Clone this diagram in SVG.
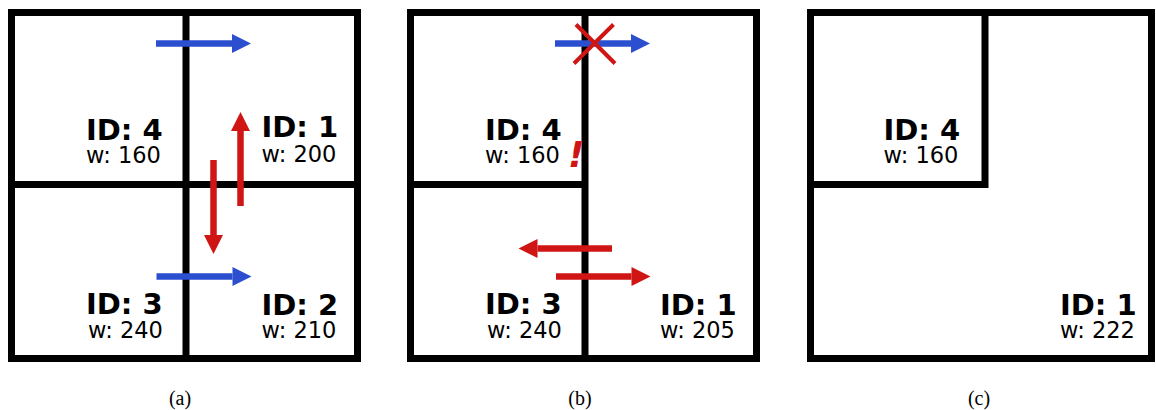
<svg xmlns="http://www.w3.org/2000/svg" width="1156" height="410" viewBox="0 0 1156 410">
<style>
.frame{fill:none;stroke:#000;stroke-width:7}
.wall{stroke:#000;stroke-width:7;fill:none}
.id{font-family:"DejaVu Sans",Verdana,sans-serif;font-weight:bold;font-size:29px;fill:#000}
.w{font-family:"DejaVu Sans",Verdana,sans-serif;font-size:22.5px;fill:#000}
.cap{font-family:"Liberation Serif","Times New Roman",serif;font-size:20px;fill:#000;text-anchor:middle}
.blue{stroke:#2b4fce;stroke-width:6.5;fill:none}
.red{stroke:#d01515;stroke-width:6.5;fill:none}
.cross{stroke:#d01515;stroke-width:4;fill:none}
</style>
<defs>
<marker id="hb" markerUnits="userSpaceOnUse" markerWidth="20" markerHeight="20" refX="0" refY="9.5" orient="auto" overflow="visible">
<path d="M0,0 L19,9.5 L0,19 Z" fill="#2b4fce"/>
</marker>
<marker id="hr" markerUnits="userSpaceOnUse" markerWidth="20" markerHeight="20" refX="0" refY="9.5" orient="auto" overflow="visible">
<path d="M0,0 L19,9.5 L0,19 Z" fill="#d01515"/>
</marker>
</defs>
<rect width="1156" height="410" fill="#fff"/>

<g id="panel-a">
<rect class="frame" x="11.5" y="12.5" width="346" height="346"/>
<line class="wall" x1="186" y1="12.5" x2="186" y2="358.5"/>
<line class="wall" x1="11.5" y1="184.5" x2="357.5" y2="184.5"/>
</g>
<g id="panel-b">
<rect class="frame" x="410.5" y="12.5" width="346" height="346"/>
<line class="wall" x1="585" y1="12.5" x2="585" y2="358.5"/>
<line class="wall" x1="410.5" y1="184.5" x2="585" y2="184.5"/>
</g>
<g id="panel-c">
<rect class="frame" x="810.5" y="12.5" width="341" height="346"/>
<polyline class="wall" points="985,12.5 985,184.5 810.5,184.5"/>
</g>

<g id="a-cell4"><text class="id" x="86" y="139.5">ID: 4</text><text class="w" x="86" y="163">w: 160</text></g>
<g id="a-cell1"><text class="id" x="261.5" y="136.5">ID: 1</text><text class="w" x="261.5" y="162">w: 200</text></g>
<g id="a-cell3"><text class="id" x="86" y="313.5">ID: 3</text><text class="w" x="88" y="338">w: 240</text></g>
<g id="a-cell2"><text class="id" x="261.5" y="314.5">ID: 2</text><text class="w" x="261.5" y="337.5">w: 210</text></g>

<g id="b-cell4"><text class="id" x="485" y="139.5">ID: 4</text><text class="w" x="485" y="163">w: 160</text></g>
<g id="b-cell3"><text class="id" x="485" y="313.5">ID: 3</text><text class="w" x="487" y="338">w: 240</text></g>
<g id="b-cell1"><text class="id" x="660" y="314.5">ID: 1</text><text class="w" x="660" y="337.5">w: 205</text></g>

<g id="c-cell4"><text class="id" x="883.5" y="139.5">ID: 4</text><text class="w" x="883.5" y="163">w: 160</text></g>
<g id="c-cell1"><text class="id" x="1060" y="314.5">ID: 1</text><text class="w" x="1060" y="337.5">w: 222</text></g>

<g id="connectors">
<line class="blue" x1="156" y1="43.5" x2="232" y2="43.5" marker-end="url(#hb)"/>
<line class="blue" x1="156.5" y1="276.5" x2="232.5" y2="276.5" marker-end="url(#hb)"/>
<line class="red" x1="240.5" y1="206" x2="240.5" y2="131" marker-end="url(#hr)"/>
<line class="red" x1="213.5" y1="160" x2="213.5" y2="235" marker-end="url(#hr)"/>
<line class="blue" x1="555" y1="43.5" x2="631" y2="43.5" marker-end="url(#hb)"/>
<line class="red" x1="612" y1="248.5" x2="537.5" y2="248.5" marker-end="url(#hr)"/>
<line class="red" x1="556" y1="276.5" x2="631.5" y2="276.5" marker-end="url(#hr)"/>
<line class="cross" x1="576" y1="24.5" x2="615" y2="63.5"/>
<line class="cross" x1="613.5" y1="24.5" x2="574" y2="63.5"/>
</g>
<text x="568" y="166.5" style="font-family:'DejaVu Sans',sans-serif;font-weight:bold;font-style:italic;font-size:36px;fill:#d01515">!</text>

<text class="cap" x="180" y="405">(a)</text>
<text class="cap" x="580" y="405">(b)</text>
<text class="cap" x="979" y="405">(c)</text>
</svg>
